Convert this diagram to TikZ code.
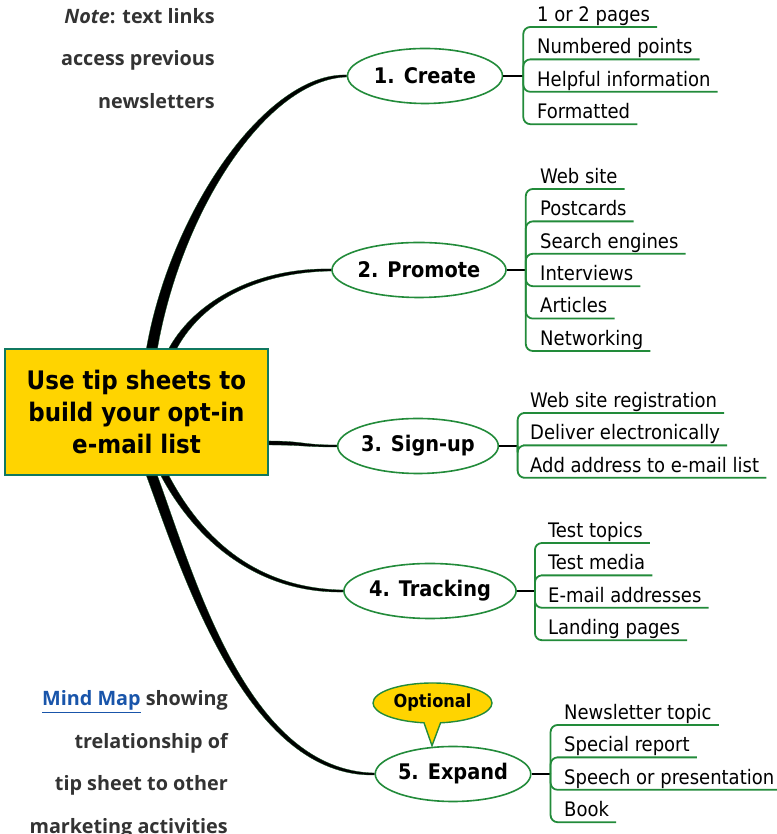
\documentclass[tikz,border=0pt]{standalone}
\usepackage{fontspec}
\setmainfont{DejaVu Sans Condensed}
\newfontfamily\notefont{Open Sans}
\usetikzlibrary{shapes.geometric, shapes.callouts, positioning, calc}

\definecolor{mapgreen}{RGB}{34,139,58}
\definecolor{tipyellow}{RGB}{255,212,0}
\definecolor{boxedge}{RGB}{16,120,96}
\definecolor{notegray}{RGB}{51,51,51}
\definecolor{linkblue}{RGB}{25,85,170}

\begin{document}
\begin{tikzpicture}[x=1pt, y=1pt,
		root/.style={draw=boxedge, fill=tipyellow, line width=1.8pt,
			minimum width=263pt, minimum height=126pt,
			align=center, font=\fontsize{25.5}{32}\selectfont\bfseries},
		topic/.style={ellipse, draw=mapgreen, fill=white, line width=1.6pt,
			minimum width=#1, minimum height=55pt, inner sep=0pt,
			font=\fontsize{21.5}{26}\selectfont\bfseries},
		item/.style={inner xsep=0pt, inner ysep=2.5pt, text height=24pt, text depth=3pt,
			font=\fontsize{20}{24}\selectfont},
		limb/.style={fill=black, draw=mapgreen!60!black, line width=0.3pt},
		stem/.style={line width=2.4pt, black},
		twig/.style={draw=mapgreen, line width=1.8pt, rounded corners=7pt},
		note/.style={align=right, text=notegray, inner sep=0pt,
			font=\notefont\fontsize{19.8}{42.5}\selectfont\bfseries}
		]
		\useasboundingbox (0,0) rectangle (776,834);
		
		% ── Side notes ──
		\node[note, anchor=north east] (note) at (215,826) {\textit{Note}: text links\\access previous\\newsletters};
		\node[note, anchor=north east] (caption) at (228,143.5) {{\color{linkblue}\underline{Mind Map}} showing\\trelationship of\\tip sheet to other\\marketing activities};
		
		% ── Central topic and main ideas ──
		\node[root] (root) at (136.5,422) {Use tip sheets to\\build your opt-in\\e-mail list};
		\node[topic=155pt] (create) at (425,758) {1. Create};
		\node[topic=174pt] (promote) at (419,564) {2. Promote};
		\node[topic=157pt] (signup) at (418,388) {3. Sign-up};
		\node[topic=170pt] (tracking) at (430,243) {4. Tracking};
		\node[topic=154pt] (expand) at (453,60) {5. Expand};
		
		% Tapered limbs from the central topic
		\fill[limb] ([xshift=10pt]root.north) .. controls +(80:140) and +(-80,2.5) .. ([yshift=1pt]create.west)
			-- ([yshift=-1pt]create.west) .. controls +(-80,-2.5) and +(80:140) .. ([xshift=21pt]root.north) -- cycle;
		\fill[limb] ([xshift=32.5pt]root.north) .. controls +(61:56) and +(-72,1.5) .. ([yshift=1pt]promote.west)
			-- ([yshift=-1pt]promote.west) .. controls +(-72,-1.5) and +(61:56) .. ([xshift=40.5pt]root.north) -- cycle;
		\fill[limb] ([yshift=-29pt]root.east) .. controls +(35,0) and +(-35,0) .. ([yshift=1pt]signup.west)
			-- ([yshift=-1pt]signup.west) .. controls +(-35,0) and +(35,0) .. ([yshift=-33pt]root.east) -- cycle;
		\fill[limb] ([xshift=24.5pt]root.south) .. controls +(-62:74) and +(-85,-1.5) .. ([yshift=-1pt]tracking.west)
			-- ([yshift=1pt]tracking.west) .. controls +(-85,1.5) and +(-62:74) .. ([xshift=32.5pt]root.south) -- cycle;
		\fill[limb] ([xshift=10pt]root.south) .. controls +(-70:112) and +(-126,-2.5) .. ([yshift=-1pt]expand.west)
			-- ([yshift=1pt]expand.west) .. controls +(-126,2.5) and +(-70:112) .. ([xshift=21pt]root.south) -- cycle;
		
		% Callout on the last idea
		\node[ellipse callout, draw=mapgreen, fill=tipyellow, line width=1.4pt,
			minimum width=119pt, minimum height=40pt, inner sep=0pt,
			callout absolute pointer={([xshift=-21pt]expand.north)}, callout pointer arc=16,
			font=\fontsize{18}{22}\selectfont\bfseries] (opt) at (432.5,131) {Optional};
		
		% ── 1. Create ──
		\coordinate (crb) at ([xshift=20pt]create.east);
		\node[item, anchor=south west] (cr1) at (537,807) {1 or 2 pages};
		\node[item, below=0pt of cr1.south west, anchor=north west] (cr2) {Numbered points};
		\node[item, below=0pt of cr2.south west, anchor=north west] (cr3) {Helpful information};
		\node[item, below=0pt of cr3.south west, anchor=north west] (cr4) {Formatted};
		\draw[stem] (create.east) -- (crb);
		\draw[twig] (crb) |- (cr1.south west) -- ([xshift=7pt]cr1.south east);
		\draw[twig] (crb) |- (cr2.south west) -- ([xshift=7pt]cr2.south east);
		\draw[twig] (crb) |- (cr3.south west) -- ([xshift=7pt]cr3.south east);
		\draw[twig] (crb) |- (cr4.south west) -- ([xshift=7pt]cr4.south east);
		
		% ── 2. Promote ──
		\coordinate (prb) at ([xshift=19pt]promote.east);
		\node[item, anchor=south west] (pr1) at (540,645) {Web site};
		\node[item, below=0pt of pr1.south west, anchor=north west] (pr2) {Postcards};
		\node[item, below=0pt of pr2.south west, anchor=north west] (pr3) {Search engines};
		\node[item, below=0pt of pr3.south west, anchor=north west] (pr4) {Interviews};
		\node[item, below=0pt of pr4.south west, anchor=north west] (pr5) {Articles};
		\node[item, below=0pt of pr5.south west, anchor=north west] (pr6) {Networking};
		\draw[stem] (promote.east) -- (prb);
		\draw[twig] (prb) |- (pr1.south west) -- ([xshift=7pt]pr1.south east);
		\draw[twig] (prb) |- (pr2.south west) -- ([xshift=7pt]pr2.south east);
		\draw[twig] (prb) |- (pr3.south west) -- ([xshift=7pt]pr3.south east);
		\draw[twig] (prb) |- (pr4.south west) -- ([xshift=7pt]pr4.south east);
		\draw[twig] (prb) |- (pr5.south west) -- ([xshift=7pt]pr5.south east);
		\draw[twig] (prb) |- (pr6.south west) -- ([xshift=7pt]pr6.south east);
		
		% ── 3. Sign-up ──
		\coordinate (sgb) at ([xshift=18.5pt]signup.east);
		\node[item, anchor=south west] (sg1) at (530,421) {Web site registration};
		\node[item, below=0pt of sg1.south west, anchor=north west] (sg2) {Deliver electronically};
		\node[item, below=0pt of sg2.south west, anchor=north west] (sg3) {Add address to e-mail list};
		\draw[stem] (signup.east) -- (sgb);
		\draw[twig] (sgb) |- (sg1.south west) -- ([xshift=7pt]sg1.south east);
		\draw[twig] (sgb) |- (sg2.south west) -- ([xshift=7pt]sg2.south east);
		\draw[twig] (sgb) |- (sg3.south west) -- ([xshift=7pt]sg3.south east);
		
		% ── 4. Tracking ──
		\coordinate (tkb) at ([xshift=18pt]tracking.east);
		\node[item, anchor=south west] (tk1) at (548,291) {Test topics};
		\node[item, below=0pt of tk1.south west, anchor=north west] (tk2) {Test media};
		\node[item, below=0pt of tk2.south west, anchor=north west] (tk3) {E-mail addresses};
		\node[item, below=0pt of tk3.south west, anchor=north west] (tk4) {Landing pages};
		\draw[stem] (tracking.east) -- (tkb);
		\draw[twig] (tkb) |- (tk1.south west) -- ([xshift=7pt]tk1.south east);
		\draw[twig] (tkb) |- (tk2.south west) -- ([xshift=7pt]tk2.south east);
		\draw[twig] (tkb) |- (tk3.south west) -- ([xshift=7pt]tk3.south east);
		\draw[twig] (tkb) |- (tk4.south west) -- ([xshift=7pt]tk4.south east);
		
		% ── 5. Expand ──
		\coordinate (exb) at ([xshift=19pt]expand.east);
		\node[item, anchor=south west] (ex1) at (564,109) {Newsletter topic};
		\node[item, below=0pt of ex1.south west, anchor=north west] (ex2) {Special report};
		\node[item, below=0pt of ex2.south west, anchor=north west] (ex3) {Speech or presentation};
		\node[item, below=0pt of ex3.south west, anchor=north west] (ex4) {Book};
		\draw[stem] (expand.east) -- (exb);
		\draw[twig] (exb) |- (ex1.south west) -- ([xshift=7pt]ex1.south east);
		\draw[twig] (exb) |- (ex2.south west) -- ([xshift=7pt]ex2.south east);
		\draw[twig] (exb) |- (ex3.south west) -- ([xshift=7pt]ex3.south east);
		\draw[twig] (exb) |- (ex4.south west) -- ([xshift=7pt]ex4.south east);
	\end{tikzpicture}
\end{document}
